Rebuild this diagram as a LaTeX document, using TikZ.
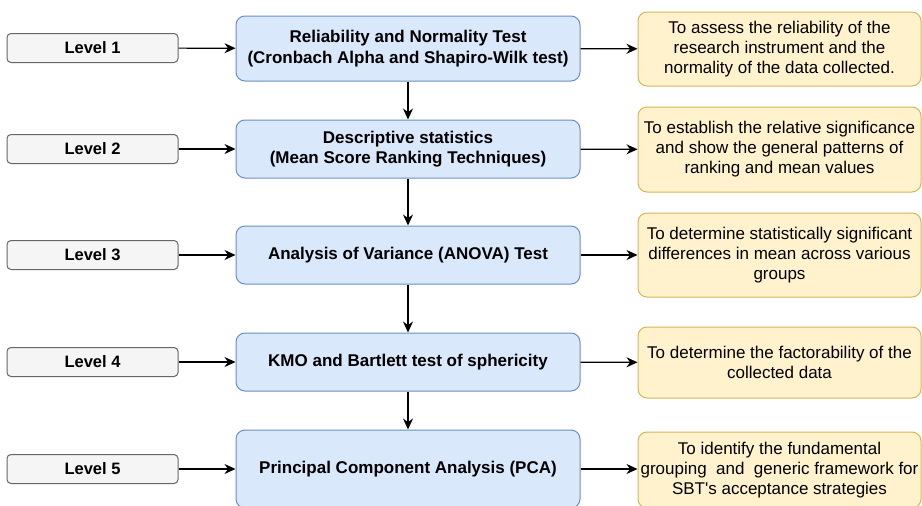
\documentclass[tikz,border=0pt]{standalone}
\usepackage{fontspec}
\setmainfont{Liberation Sans}
\usetikzlibrary{arrows.meta}

\definecolor{lvlfill}{HTML}{F5F5F5}
\definecolor{lvldraw}{HTML}{666666}
\definecolor{testfill}{HTML}{DAE8FC}
\definecolor{testdraw}{HTML}{6C8EBF}
\definecolor{aimfill}{HTML}{FFF2CC}
\definecolor{aimdraw}{HTML}{D6B656}

\begin{document}
\begin{tikzpicture}[x=1pt,y=-1pt,
    level/.style={draw=lvldraw,fill=lvlfill,rounded corners=4pt,line width=1pt,
        minimum width=171pt,minimum height=29pt,inner sep=0pt,
        font=\fontsize{16.5}{18}\selectfont\bfseries},
    test/.style={draw=testdraw,fill=testfill,rounded corners=9pt,line width=1pt,
        minimum width=344pt,inner sep=0pt,align=center,
        font=\fontsize{17}{20.5}\selectfont\bfseries},
    aim/.style={draw=aimdraw,fill=aimfill,rounded corners=9pt,line width=1pt,
        minimum width=283pt,inner sep=0pt,align=center,
        font=\fontsize{17}{20}\selectfont},
    arr/.style={-{Stealth[length=11pt,width=10pt]},line width=1.2pt}]

    \clip (0,0) rectangle (922,506);

    % levels
    \node[level] (l1) at (92.5,48) {Level 1};
    \node[level] (l2) at (92.5,149) {Level 2};
    \node[level] (l3) at (92.5,255) {Level 3};
    \node[level] (l4) at (92.5,362) {Level 4};
    \node[level] (l5) at (92.5,469) {Level 5};

    % tests
    \node[test,minimum height=65pt] (t1) at (408,48.5) {Reliability and Normality Test\\(Cronbach Alpha and Shapiro-Wilk test)};
    \node[test,minimum height=58pt] (t2) at (408,149) {Descriptive statistics\\(Mean Score Ranking Techniques)};
    \node[test,minimum height=58pt] (t3) at (408,255) {Analysis of Variance (ANOVA) Test};
    \node[test,minimum height=58pt] (t4) at (408,362) {KMO and Bartlett test of sphericity};
    \node[test,minimum height=78pt] (t5) at (408,469) {Principal Component Analysis (PCA)};

    % aims
    \node[aim,minimum height=74pt] (a1) at (779.5,49) {To assess the reliability of the\\research instrument and the\\normality of the data collected.};
    \node[aim,minimum height=85pt] (a2) at (779.5,149.5) {To establish the relative significance\\and show the general patterns of\\ranking and mean values};
    \node[aim,minimum height=84pt] (a3) at (779.5,255) {To determine statistically significant\\differences in mean across various\\groups};
    \node[aim,minimum height=71pt] (a4) at (779.5,362.5) {To determine the factorability of the\\collected data};
    \node[aim,minimum height=76pt] (a5) at (779.5,470) {To identify the fundamental\\grouping\ \ and\ \ generic framework for\\SBT\textquotesingle s acceptance strategies};

    % connectors
    \draw[arr] (l1) -- (t1);
    \draw[arr] (l2) -- (t2);
    \draw[arr] (l3) -- (t3);
    \draw[arr] (l4) -- (t4);
    \draw[arr] (l5) -- (t5);
    \draw[arr] (t1) -- (a1);
    \draw[arr] (t2) -- (a2);
    \draw[arr] (t3) -- (a3);
    \draw[arr] (t4) -- (a4);
    \draw[arr] (t5.east) -- (t5.east -| a5.west);
    \draw[arr] (t1) -- (t2);
    \draw[arr] (t2) -- (t3);
    \draw[arr] (t3) -- (t4);
    \draw[arr] (t4) -- (t5);
\end{tikzpicture}
\end{document}
